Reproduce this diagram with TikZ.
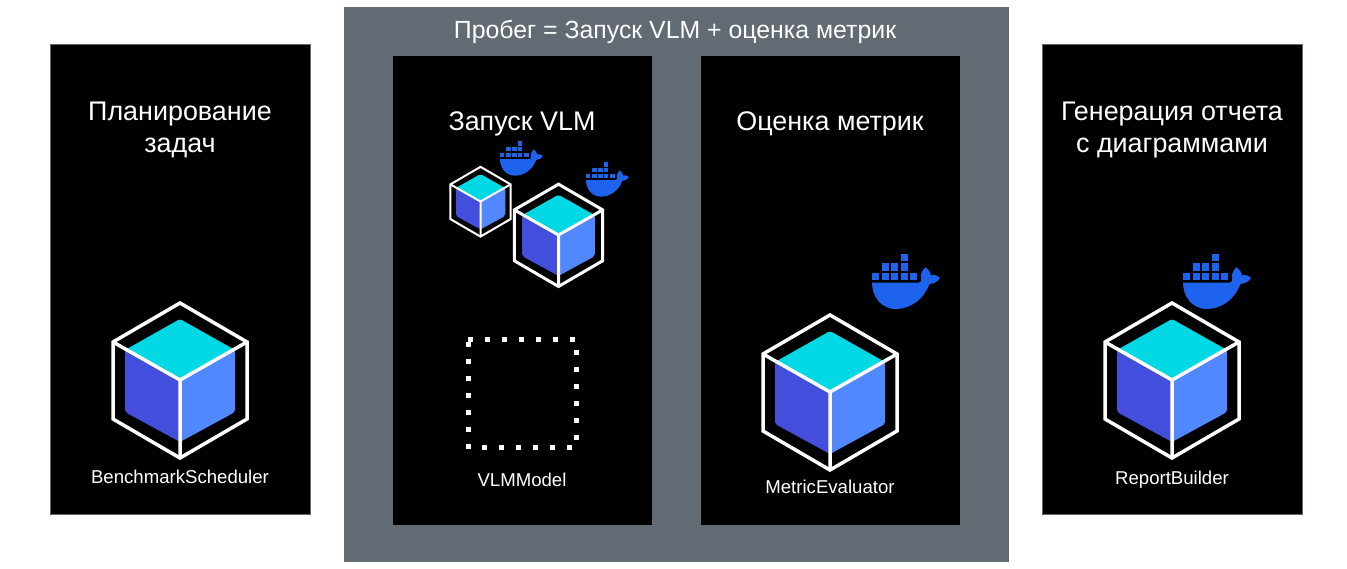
\documentclass[tikz,border=0pt]{standalone}
\usepackage{fontspec}
\setmainfont{Liberation Sans}
\definecolor{runGray}{HTML}{626A73}
\definecolor{cubeTop}{HTML}{00D9E3}
\definecolor{cubeLeft}{HTML}{434FDC}
\definecolor{cubeRight}{HTML}{5288FF}
\definecolor{dockerBlue}{HTML}{1D63ED}
\tikzset{
  panel/.style={fill=black,minimum width=259pt,minimum height=469pt,anchor=north west,inner sep=0pt},
  sidepanel/.style={panel,draw=runGray,line width=.7pt,minimum width=260pt,minimum height=470pt},
  heading/.style={text=white,font=\fontsize{26.9}{32}\selectfont,align=center,inner sep=0pt},
  caption/.style={text=white,font=\fontsize{18.6}{22}\selectfont,inner sep=0pt},
  pics/cube/.style={code={
    \fill[cubeTop,rounded corners=2pt] (0,-61) -- (55,-30) -- (0,1) -- (-55,-30) -- cycle;
    \fill[cubeLeft,rounded corners=2pt] (-55,-30) -- (0,0) -- (0,62) -- (-55,32) -- cycle;
    \fill[cubeRight,rounded corners=2pt] (55,-30) -- (0,0) -- (0,62) -- (55,32) -- cycle;
    \draw[white,line width=#1,line join=miter] (0,-77) -- (67,-38) -- (67,39) -- (0,78) -- (-67,39) -- (-67,-38) -- cycle;
    \draw[white,line width=#1,line join=miter] (-67,-38) -- (0,0) -- (67,-38) (0,0) -- (0,78);
  }},
  pics/whale/.style={code={
    \fill[dockerBlue] (0,86) -- (140,86) .. controls (147,86) and (149,80) .. (147,70)
      .. controls (146,58) and (152,48) .. (160,40) .. controls (170,47) and (177,55) .. (176,64)
      .. controls (187,61) and (197,65) .. (204,71) .. controls (198,84) and (185,89) .. (172,90)
      .. controls (157,135) and (115,165) .. (72,165) .. controls (25,165) and (0,125) .. (0,86) -- cycle;
    \foreach \p in {(0,56),(29,56),(58,56),(86,56),(115,56),(29,28),(58,28),(86,28),(86,0)}
      \fill[dockerBlue,shift={\p}] (0,0) rectangle (21,22);
  }}
}
\begin{document}
\begin{tikzpicture}[x=1pt,y=-1pt]
  \useasboundingbox (0,0) rectangle (1347,569);
  \node[fill=runGray,minimum width=665pt,minimum height=555pt,anchor=north west,inner sep=0pt] (run) at (344,7) {};
  \node[sidepanel] (scheduler) at (49.6,43.6) {};
  \node[panel] (vlm) at (393,56) {};
  \node[panel] (metric) at (701,56) {};
  \node[sidepanel] (report) at (1041.6,43.6) {};
  \node[heading,font=\fontsize{24.85}{28}\selectfont] (runTitle) at (675,32) {Пробег = Запуск VLM + оценка метрик};
  \node[heading] (schedulerTitle) at (180,130) {Планирование\\задач};
  \node[heading] (vlmTitle) at (522,124) {Запуск VLM};
  \node[heading] (metricTitle) at (830,124) {Оценка метрик};
  \node[heading] (reportTitle) at (1172,130) {Генерация отчета\\с диаграммами};
  \pic at (180,380) {cube=3.5pt};
  \pic[scale=.45] at (480.5,201.5) {cube=2pt};
  \pic[scale=.66] at (558.5,235) {cube=3pt};
  \pic at (830,392) {cube=3.5pt};
  \pic at (1172,380) {cube=3.5pt};
  \pic[scale=.21] at (500,141) {whale};
  \pic[scale=.21] at (586,162) {whale};
  \pic[scale=.3333] at (872,254) {whale};
  \pic[scale=.3333] at (1183,254) {whale};
  \foreach \i in {0,...,6} {
    \fill[white] (468+17*\i,337) rectangle +(4.6,4.6);
    \fill[white] (466,342+17*\i) rectangle +(4.6,4.6);
  }
  \foreach \i in {0,...,5} {
    \fill[white] (574,350+17*\i) rectangle +(4.6,4.6);
    \fill[white] (482+17*\i,445) rectangle +(4.6,4.6);
  }
  \node[caption] (schedulerName) at (180,477) {BenchmarkScheduler};
  \node[caption] (vlmName) at (522,480) {VLMModel};
  \node[caption] (metricName) at (830,487) {MetricEvaluator};
  \node[caption] (reportName) at (1172,480) {ReportBuilder};
\end{tikzpicture}
\end{document}
